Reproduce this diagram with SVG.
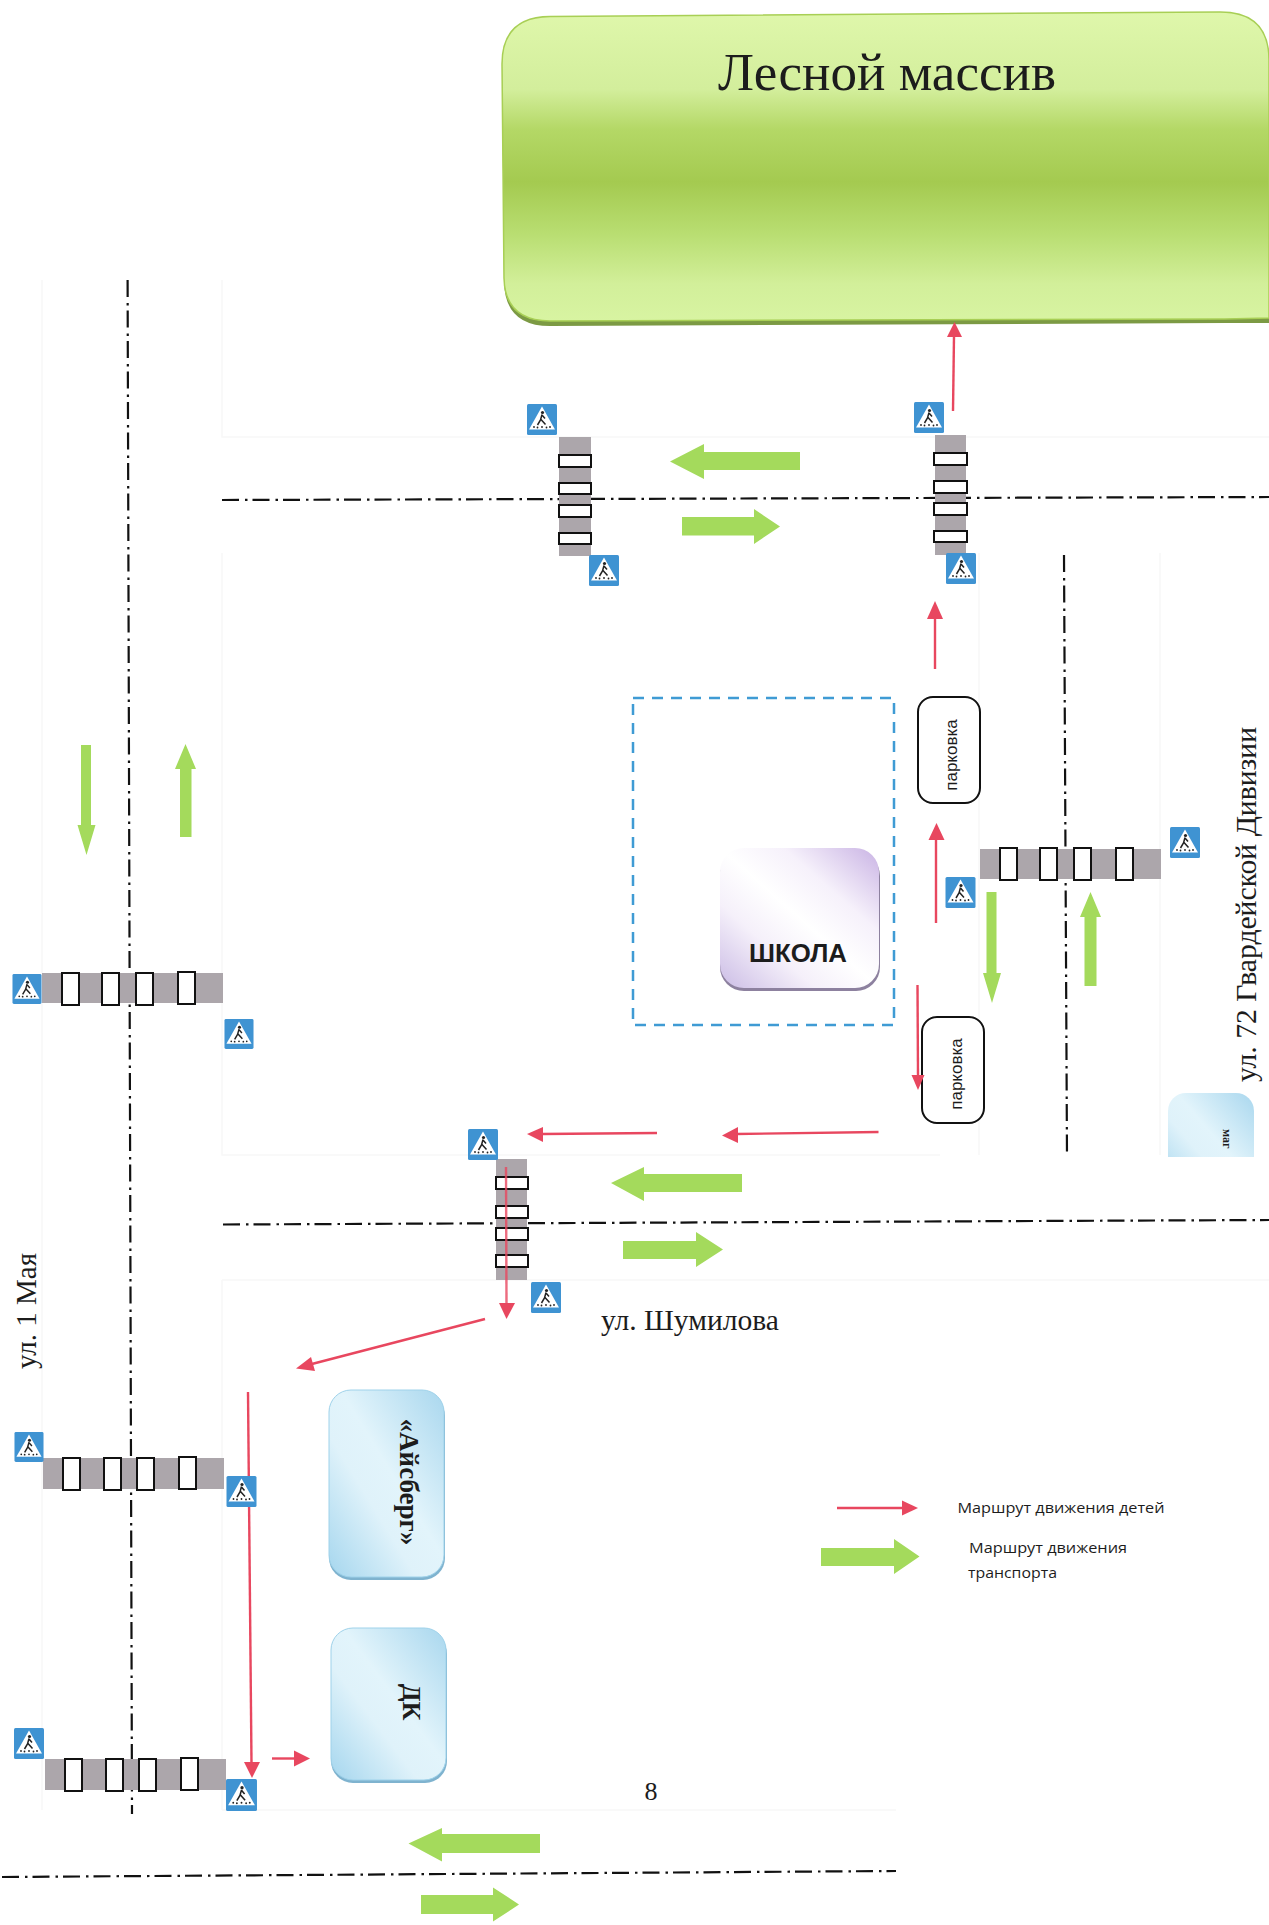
<svg xmlns="http://www.w3.org/2000/svg" width="1269" height="1925" viewBox="0 0 1269 1925">
<defs>
<style>
text{fill:#1c1c1c}
.serif{font-family:"Liberation Serif","Times New Roman",serif}
.sans{font-family:"Liberation Sans",Arial,sans-serif}
.open{font-family:"Open Sans","Noto Sans",sans-serif}
.ghost{stroke:#f8f8f8;stroke-width:1.5;fill:none}
.axis{stroke:#111;stroke-width:2.2;fill:none;stroke-dasharray:17 6 2.500 5}
.grey{fill:#aca6ab}
.bar{fill:#fff;stroke:#111;stroke-width:2}
.red{stroke:#e8475f;stroke-width:2.400;fill:none}
.redh{fill:#e8475f}
.green{fill:#a4da5c}
.park{fill:#fff;stroke:#111;stroke-width:2}
</style>
<linearGradient id="forest" x1="0" y1="0" x2="0" y2="1">
<stop offset="0" stop-color="#dff7ab"/><stop offset=".25" stop-color="#d3ee9c"/><stop offset=".38" stop-color="#b4d866"/><stop offset=".55" stop-color="#a4ca50"/><stop offset=".72" stop-color="#b9de72"/><stop offset=".88" stop-color="#d2ef9a"/><stop offset="1" stop-color="#d8f4a2"/>
</linearGradient>
<linearGradient id="school" x1="1" y1="0" x2="0" y2="1">
<stop offset="0" stop-color="#c9b3e4"/><stop offset=".3" stop-color="#f6f1fb"/><stop offset=".5" stop-color="#fff"/><stop offset=".7" stop-color="#f5f0fa"/><stop offset="1" stop-color="#cbbce5"/>
</linearGradient>
<linearGradient id="ice" x1="1" y1="0" x2="0" y2="1">
<stop offset="0" stop-color="#a9d7ee"/><stop offset=".45" stop-color="#e2f4fb"/><stop offset=".62" stop-color="#dff2fa"/><stop offset="1" stop-color="#a5d6ee"/>
</linearGradient>
<clipPath id="magclip"><rect x="1160" y="1085" width="100" height="72"/></clipPath>
<symbol id="sign" viewBox="0 0 30 31">
<rect width="30" height="31" rx="1.500" fill="#3f93d2"/>
<path d="M15 2.500 28 25.500H2Z" fill="#fff"/>
<circle cx="15.500" cy="8.500" r="1.600" fill="#222"/>
<path d="M15 10.500 13.500 16 10.500 21M14 15.500 18.500 20.500M15 11 18 14.500" stroke="#222" stroke-width="1.500" fill="none"/>
<g fill="#222"><circle cx="7" cy="23" r=".9"/><circle cx="10.500" cy="23.500" r=".9"/><circle cx="15" cy="23" r=".9"/><circle cx="19.500" cy="23.500" r=".9"/><circle cx="23" cy="23" r=".9"/></g>
</symbol>
</defs>
<rect width="1269" height="1925" fill="#fff"/>

<g id="road-edges">
<path class="ghost" d="M42 280V1810M222 280V437H1269M222 553V1155H940M222 1280V1810M222 1280H1269M222 1810H896M979 553V1155M1160 553V1155"/>
</g>

<g id="axes">
<path class="axis" d="M127.600 280L132 1814"/>
<path class="axis" d="M222 500L1269 497"/>
<path class="axis" d="M1064 555L1067 1157"/>
<path class="axis" d="M223 1224.500L1269 1220"/>
<path class="axis" d="M2 1877L896 1871"/>
</g>

<g id="forest">
<path d="M550 17.500L1220 13Q1269 13 1269 60V321L1225 321L550 324Q505 324 504 280L502 64Q502 18 550 17.500Z" fill="#7c9a44" transform="translate(0 2)"/>
<path d="M550 16.500L1220 12Q1269 12 1269 60V318L1225 319L550 321Q505 321 504 278L502 64Q502 17 550 16.500Z" fill="url(#forest)" stroke="#a8cf55" stroke-width="1.500"/>
<text class="serif" x="718" y="90" font-size="53" textLength="338" lengthAdjust="spacingAndGlyphs">Лесной массив</text>
</g>

<g id="crossing-a">
<rect class="grey" x="559" y="437" width="32" height="119"/>
<rect class="bar" x="559" y="455" width="32" height="12"/><rect class="bar" x="559" y="483" width="32" height="11"/><rect class="bar" x="559" y="505" width="32" height="12"/><rect class="bar" x="559" y="533" width="32" height="11"/>
<use href="#sign" x="527" y="404" width="30" height="31"/><use href="#sign" x="589" y="555" width="30" height="31"/>
</g>
<g id="crossing-b">
<rect class="grey" x="935" y="435" width="31" height="120"/>
<rect class="bar" x="934" y="453" width="33" height="12"/><rect class="bar" x="934" y="481" width="33" height="12"/><rect class="bar" x="934" y="503" width="33" height="12"/><rect class="bar" x="934" y="531" width="33" height="11"/>
<use href="#sign" x="914" y="402" width="30" height="31"/><use href="#sign" x="946" y="553" width="30" height="31"/>
</g>
<g id="crossing-c">
<rect class="grey" x="980" y="849" width="181" height="30"/>
<rect class="bar" x="1000" y="848" width="17" height="32"/><rect class="bar" x="1040" y="848" width="17" height="32"/><rect class="bar" x="1074" y="848" width="17" height="32"/><rect class="bar" x="1116" y="848" width="17" height="32"/>
<use href="#sign" x="945" y="877" width="31" height="31"/><use href="#sign" x="1170" y="827" width="30" height="31"/>
</g>
<g id="crossing-d">
<rect class="grey" x="496" y="1159" width="31" height="121"/>
<rect class="bar" x="496" y="1177" width="32" height="12"/><rect class="bar" x="496" y="1206" width="32" height="12"/><rect class="bar" x="496" y="1228" width="32" height="12"/><rect class="bar" x="496" y="1255" width="32" height="12"/>
<use href="#sign" x="468" y="1129" width="30" height="31"/><use href="#sign" x="531" y="1282" width="30" height="31"/>
</g>
<g id="crossing-e">
<rect class="grey" x="42" y="973" width="181" height="30"/>
<rect class="bar" x="62" y="973" width="17" height="32"/><rect class="bar" x="102" y="973" width="17" height="32"/><rect class="bar" x="136" y="973" width="17" height="32"/><rect class="bar" x="178" y="972" width="17" height="32"/>
<use href="#sign" x="12" y="974" width="30" height="30"/><use href="#sign" x="224" y="1019" width="30" height="30"/>
</g>
<g id="crossing-f">
<rect class="grey" x="43" y="1458" width="181" height="31"/>
<rect class="bar" x="63" y="1458" width="17" height="32"/><rect class="bar" x="104" y="1458" width="17" height="32"/><rect class="bar" x="137" y="1458" width="17" height="32"/><rect class="bar" x="179" y="1457" width="17" height="32"/>
<use href="#sign" x="14" y="1432" width="30" height="30"/>
</g>
<g id="crossing-g">
<rect class="grey" x="45" y="1759" width="181" height="31"/>
<rect class="bar" x="65" y="1759" width="17" height="32"/><rect class="bar" x="106" y="1759" width="17" height="32"/><rect class="bar" x="139" y="1759" width="17" height="32"/><rect class="bar" x="181" y="1758" width="17" height="32"/>
<use href="#sign" x="14" y="1728" width="30" height="31"/>
</g>

<g id="school-yard"><rect x="633" y="698" width="261" height="327" fill="none" stroke="#3f9bd4" stroke-width="2.500" stroke-dasharray="11 8"/></g>
<g id="school">
<rect x="720" y="852" width="160" height="139" rx="24" fill="#8d819f"/>
<rect x="720" y="848" width="159" height="140" rx="24" fill="url(#school)"/>
<text class="sans" x="749" y="962" font-size="25" font-weight="700" textLength="98" lengthAdjust="spacingAndGlyphs">ШКОЛА</text>
</g>
<g id="parking-1">
<rect class="park" x="918" y="697" width="62" height="106" rx="15"/>
<text class="sans" transform="translate(957 755) rotate(-90)" text-anchor="middle" font-size="17">парковка</text>
</g>
<g id="parking-2">
<rect class="park" x="922" y="1017" width="62" height="106" rx="15"/>
<text class="sans" transform="translate(962 1074) rotate(-90)" text-anchor="middle" font-size="17">парковка</text>
</g>
<g id="magazine" clip-path="url(#magclip)">
<rect x="1168" y="1093" width="86" height="100" rx="18" fill="url(#ice)"/>
<text class="serif" transform="translate(1223 1129) rotate(90)" font-size="12" font-weight="700">маг</text>
</g>
<g id="aisberg">
<rect x="329" y="1394" width="116" height="186" rx="22" fill="#7fb3cf"/>
<rect x="329" y="1390" width="115" height="187" rx="22" fill="url(#ice)" stroke="#9fd2ea"/>
<text class="serif" transform="translate(400 1482) rotate(90)" text-anchor="middle" font-size="27" font-weight="700">«Айсберг»</text>
</g>
<g id="dk">
<rect x="331" y="1632" width="116" height="151" rx="22" fill="#7fb3cf"/>
<rect x="331" y="1628" width="115" height="152" rx="22" fill="url(#ice)" stroke="#9fd2ea"/>
<text class="serif" transform="translate(403 1702) rotate(90)" text-anchor="middle" font-size="26" font-weight="700">ДК</text>
</g>

<g id="connectors">
<path class="red" d="M953 411L954 336"/><path class="redh" d="M954.500 322L962 337H947Z"/>
<path class="red" d="M935 669L935 617"/><path class="redh" d="M935 601L943 619H927Z"/>
<path class="red" d="M936 923L936 838"/><path class="redh" d="M936.500 823L944.500 840H928.500Z"/>
<path class="red" d="M917.500 985L918 1076"/><path class="redh" d="M918 1090L924.500 1075H911.500Z"/>
<path class="red" d="M878.500 1132L736 1134"/><path class="redh" d="M722 1135.500L738 1127V1143Z"/>
<path class="red" d="M657 1133L542 1134"/><path class="redh" d="M527 1134L543 1127V1142Z"/>
<path class="red" d="M506 1167L506.500 1304" opacity=".8"/><path class="redh" d="M506.500 1319L499 1303H515Z"/>
<path class="red" d="M485 1319L308 1365"/><path class="redh" d="M296 1368.500L311 1357L315 1371Z"/>
<path class="red" d="M248 1392L251.500 1763"/><path class="redh" d="M252 1778L244 1762H260Z"/>
<path class="red" d="M272 1758.500L294 1758.500"/><path class="redh" d="M310 1758.500L294 1750.500V1766.500Z"/>
<path class="green" d="M670 461.500L704 444V452H800V470H704V479Z"/>
<path class="green" d="M780 526.500L754 509V517H682V535.500H754V544Z"/>
<path class="green" d="M611 1183L644 1167V1174H742V1192H644V1201Z"/>
<path class="green" d="M723 1249.500L696 1232V1241H623V1259H696V1267Z"/>
<path class="green" d="M992 1003L983 973H986.500V892H996.500V973H1001Z"/>
<path class="green" d="M1090.500 892L1101 917H1096.500V986H1084.500V917H1080Z"/>
<path class="green" d="M86.500 855L77.500 825H81V745H91V825H95.500Z"/>
<path class="green" d="M185.500 744L196 769H191.500V837H180V769H175Z"/>
<path class="green" d="M408.500 1843.500L442 1828V1834H540V1853H442V1861.500Z"/>
<path class="green" d="M519 1904.500L493 1887.500V1895H421V1914H493V1921.500Z"/>
</g>

<g id="signs-top">
<use href="#sign" x="226" y="1476" width="31" height="31"/>
<use href="#sign" x="226" y="1779" width="31" height="32"/>
</g>

<g id="labels">
<text class="serif" transform="translate(1256 1082) rotate(-90)" font-size="30" textLength="355" lengthAdjust="spacingAndGlyphs">ул. 72 Гвардейской Дивизии</text>
<text class="serif" transform="translate(36 1369) rotate(-90)" font-size="29" textLength="116" lengthAdjust="spacingAndGlyphs">ул. 1 Мая</text>
<text class="serif" x="601" y="1330" font-size="29.500" textLength="178" lengthAdjust="spacingAndGlyphs">ул. Шумилова</text>
<text class="serif" x="651" y="1800" text-anchor="middle" font-size="26">8</text>
</g>

<g id="legend">
<path class="red" d="M837 1508H903"/><path class="redh" d="M918 1508L902 1500.500V1515.500Z"/>
<path class="green" d="M919.500 1556.500L894 1539V1548H821V1566H894V1574Z"/>
<text class="open" x="957.500" y="1512.500" font-size="15" textLength="207" lengthAdjust="spacingAndGlyphs">Маршрут движения детей</text>
<text class="open" x="969" y="1553" font-size="15" textLength="158" lengthAdjust="spacingAndGlyphs">Маршрут движения</text>
<text class="open" x="968" y="1578" font-size="15" textLength="89" lengthAdjust="spacingAndGlyphs">транспорта</text>
</g>
</svg>
